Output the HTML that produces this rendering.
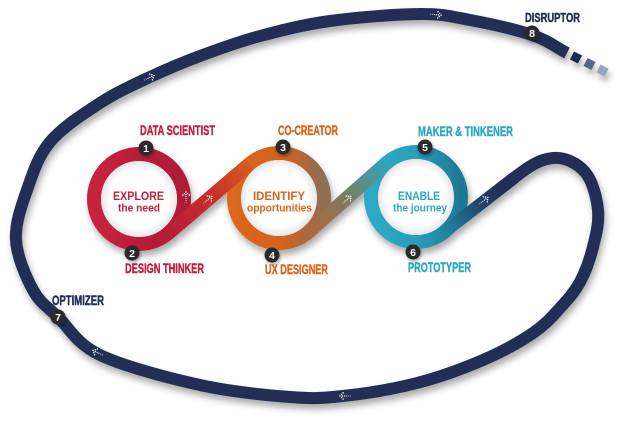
<!DOCTYPE html>
<html>
<head>
<meta charset="utf-8">
<style>
html,body{margin:0;padding:0;background:#fff;}
svg{display:block;}
.lbl{font-family:"Liberation Sans Narrow","Liberation Sans",sans-serif;font-weight:bold;stroke-width:0.45px;}
.in{font-family:"Liberation Sans",sans-serif;font-weight:bold;}
.num{font-family:"Liberation Sans",sans-serif;font-weight:bold;font-size:10.5px;fill:#fff;}
</style>
</head>
<body>
<svg width="640" height="422" viewBox="0 0 640 422" xmlns="http://www.w3.org/2000/svg">
<defs>
  <filter id="sh" x="-20%" y="-20%" width="140%" height="140%">
    <feDropShadow dx="2" dy="5" stdDeviation="3.5" flood-color="#000" flood-opacity="0.33"/>
  </filter>
  <filter id="msh" x="-50%" y="-50%" width="200%" height="200%">
    <feDropShadow dx="1" dy="2" stdDeviation="1.5" flood-color="#000" flood-opacity="0.35"/>
  </filter>
  <linearGradient id="r1" gradientUnits="userSpaceOnUse" x1="94" y1="199" x2="184" y2="199">
    <stop offset="0" stop-color="#c7213e"/>
    <stop offset="1" stop-color="#ad1c36"/>
  </linearGradient>
  <linearGradient id="r2" gradientUnits="userSpaceOnUse" x1="234" y1="198" x2="324" y2="198">
    <stop offset="0" stop-color="#db671c"/>
    <stop offset="0.55" stop-color="#d2621f"/>
    <stop offset="1" stop-color="#8c6f55"/>
  </linearGradient>
  <linearGradient id="r3" gradientUnits="userSpaceOnUse" x1="371" y1="197" x2="461" y2="197">
    <stop offset="0" stop-color="#2ea9c5"/>
    <stop offset="0.5" stop-color="#2a9fbb"/>
    <stop offset="1" stop-color="#1d7895"/>
  </linearGradient>
  <linearGradient id="c1" gradientUnits="userSpaceOnUse" x1="168" y1="233.5" x2="250" y2="163.5">
    <stop offset="0" stop-color="#b81d37"/>
    <stop offset="0.55" stop-color="#c7302c"/>
    <stop offset="1" stop-color="#d75d1d"/>
  </linearGradient>
  <linearGradient id="c2" gradientUnits="userSpaceOnUse" x1="308.6" y1="231.9" x2="386.4" y2="163.1">
    <stop offset="0" stop-color="#b0683a"/>
    <stop offset="0.45" stop-color="#807a5c"/>
    <stop offset="1" stop-color="#30a4bd"/>
  </linearGradient>
  <linearGradient id="c3" gradientUnits="userSpaceOnUse" x1="443.6" y1="232.6" x2="500" y2="189">
    <stop offset="0" stop-color="#2387a3"/>
    <stop offset="0.6" stop-color="#234a70"/>
    <stop offset="1" stop-color="#202d54"/>
  </linearGradient>
  <radialGradient id="inw" cx="0.5" cy="0.5" r="0.5">
    <stop offset="0.78" stop-color="#ffffff"/>
    <stop offset="1" stop-color="#e6e6e6"/>
  </radialGradient>
  <g id="ar" fill="#fff">
    <rect x="-10" y="-0.6" width="1.2" height="1.2" opacity="0.45"/>
    <rect x="-8" y="-0.6" width="1.2" height="1.2" opacity="0.6"/>
    <rect x="-6" y="-0.6" width="1.2" height="1.2" opacity="0.75"/>
    <rect x="-4" y="-0.6" width="1.2" height="1.2" opacity="0.9"/>
    <rect x="-2" y="-0.6" width="1.2" height="1.2"/>
    <rect x="0.4" y="-0.6" width="1.3" height="1.3"/>
    <rect x="-1.2" y="-2.2" width="1.3" height="1.3"/>
    <rect x="-2.8" y="-3.8" width="1.3" height="1.3"/>
    <rect x="-1.2" y="1" width="1.3" height="1.3"/>
    <rect x="-2.8" y="2.6" width="1.3" height="1.3"/>
  </g>
</defs>

<g filter="url(#sh)">
  <path d="M443.6,232.6 L514.7,177.4 C530.5,165.1 540.8,159 553,158 C565.2,157 577.5,163.3 585,172 C592.5,180.7 596.7,197.5 598,210 C599.3,222.5 596,235 593,247 C590,259 585.5,271.8 580,282 C574.5,292.2 567.8,299.5 560,308 C552.2,316.5 545.8,324.3 533,333 C520.2,341.7 502.3,351.7 483,360 C463.7,368.3 440.3,377 417,383 C393.7,389 364.2,393.7 343,396 C321.8,398.3 313.8,398.8 290,397 C266.2,395.2 231.7,392 200,385 C168.3,378 123.7,366.3 100,355 C76.3,343.7 69.2,327.8 58,317 C46.8,306.2 40,302.8 33,290 C26,277.2 17,256.7 16,240 C15,223.3 21.3,206.3 27,190 C32.7,173.7 37.8,156.5 50,142 C62.2,127.5 83.3,113.8 100,103 C116.7,92.2 133.3,84.8 150,77 C166.7,69.2 181.7,62.8 200,56 C218.3,49.2 238.3,41.8 260,36 C281.7,30.2 303.3,24.7 330,21 C356.7,17.3 396.7,14.2 420,14 C443.3,13.8 451.3,16.5 470,20 C488.7,23.5 515.8,29.5 532,35 C548.2,40.5 555.3,47 567,53" fill="none" stroke="#202d54" stroke-width="12"/>
  <rect x="-4.5" y="-4.5" width="9" height="9" fill="#1f2b52" transform="translate(576,57.5) rotate(27)"/>
  <rect x="-4.5" y="-4.5" width="9" height="9" fill="#56648a" transform="translate(589.5,64) rotate(27)"/>
  <rect x="-4.5" y="-4.5" width="9" height="9" fill="#9aa5bd" transform="translate(602.5,70.5) rotate(27)"/>

  <circle cx="139" cy="199" r="45" fill="none" stroke="url(#r1)" stroke-width="14"/>
  <circle cx="279" cy="198" r="45" fill="none" stroke="url(#r2)" stroke-width="14"/>
  <circle cx="416" cy="197" r="45" fill="none" stroke="url(#r3)" stroke-width="14"/>
  <line x1="168" y1="233.5" x2="250" y2="163.5" stroke="url(#c1)" stroke-width="14"/>
  <line x1="308.6" y1="231.9" x2="386.4" y2="163.1" stroke="url(#c2)" stroke-width="14"/>
  <line x1="443.6" y1="232.6" x2="515" y2="177.2" stroke="url(#c3)" stroke-width="12.5"/>
</g>

<circle cx="139" cy="199" r="38" fill="url(#inw)"/>
<circle cx="279" cy="198" r="38" fill="url(#inw)"/>
<circle cx="416" cy="197" r="38" fill="url(#inw)"/>

<use href="#ar" transform="translate(186,193) rotate(-90)"/>
<use href="#ar" transform="translate(211,197) rotate(-40)"/>
<use href="#ar" transform="translate(350,197) rotate(-41)"/>
<use href="#ar" transform="translate(487,198) rotate(-38)"/>
<use href="#ar" transform="translate(153,76) rotate(-25)"/>
<use href="#ar" transform="translate(440,15) rotate(4)"/>
<use href="#ar" transform="translate(94,351) rotate(205)"/>
<use href="#ar" transform="translate(341,396) rotate(180)"/>

<text class="in" x="113" y="200" font-size="12" fill="#c1203b" textLength="51" lengthAdjust="spacingAndGlyphs">EXPLORE</text>
<text class="in" x="118" y="211.5" font-size="11" fill="#c1203b" textLength="42" lengthAdjust="spacingAndGlyphs">the need</text>
<text class="in" x="253" y="200" font-size="12" fill="#d8651e" textLength="52" lengthAdjust="spacingAndGlyphs">IDENTIFY</text>
<text class="in" x="247" y="211.5" font-size="11" fill="#d8651e" textLength="65" lengthAdjust="spacingAndGlyphs">opportunities</text>
<text class="in" x="398" y="200" font-size="12" fill="#2aa7c3" textLength="42" lengthAdjust="spacingAndGlyphs">ENABLE</text>
<text class="in" x="393" y="211.5" font-size="11" fill="#2aa7c3" textLength="54" lengthAdjust="spacingAndGlyphs">the journey</text>

<text class="lbl" x="140" y="135" font-size="14" fill="#c1203b" stroke="#c1203b" textLength="75" lengthAdjust="spacingAndGlyphs">DATA SCIENTIST</text>
<text class="lbl" x="278" y="135" font-size="14" fill="#d8651e" stroke="#d8651e" textLength="60" lengthAdjust="spacingAndGlyphs">CO-CREATOR</text>
<text class="lbl" x="418" y="136" font-size="14" fill="#2aa7c3" stroke="#2aa7c3" textLength="95" lengthAdjust="spacingAndGlyphs">MAKER &amp; TINKENER</text>
<text class="lbl" x="125" y="273" font-size="14" fill="#c1203b" stroke="#c1203b" textLength="79" lengthAdjust="spacingAndGlyphs">DESIGN THINKER</text>
<text class="lbl" x="265" y="274" font-size="14" fill="#d8651e" stroke="#d8651e" textLength="63" lengthAdjust="spacingAndGlyphs">UX DESIGNER</text>
<text class="lbl" x="408" y="272" font-size="14" fill="#2aa7c3" stroke="#2aa7c3" textLength="63" lengthAdjust="spacingAndGlyphs">PROTOTYPER</text>
<text class="lbl" x="52" y="305" font-size="13.5" fill="#223058" stroke="#223058" textLength="52" lengthAdjust="spacingAndGlyphs">OPTIMIZER</text>
<text class="lbl" x="525" y="22" font-size="12.5" fill="#223058" stroke="#223058" textLength="55" lengthAdjust="spacingAndGlyphs">DISRUPTOR</text>

<g filter="url(#msh)" fill="#2b2b2b">
  <circle cx="146" cy="148" r="7.5"/>
  <circle cx="132" cy="253" r="7.5"/>
  <circle cx="283" cy="147" r="7.5"/>
  <circle cx="272" cy="255" r="7.5"/>
  <circle cx="425" cy="147" r="7.5"/>
  <circle cx="413" cy="252" r="7.5"/>
  <circle cx="58" cy="317" r="7.5"/>
  <circle cx="532" cy="33" r="7.5"/>
</g>
<text class="num" x="146" y="151.8" text-anchor="middle">1</text>
<text class="num" x="132" y="256.8" text-anchor="middle">2</text>
<text class="num" x="283" y="150.8" text-anchor="middle">3</text>
<text class="num" x="272" y="258.8" text-anchor="middle">4</text>
<text class="num" x="425" y="150.8" text-anchor="middle">5</text>
<text class="num" x="413" y="255.8" text-anchor="middle">6</text>
<text class="num" x="58" y="320.8" text-anchor="middle">7</text>
<text class="num" x="532" y="36.8" text-anchor="middle">8</text>
</svg>
</body>
</html>
